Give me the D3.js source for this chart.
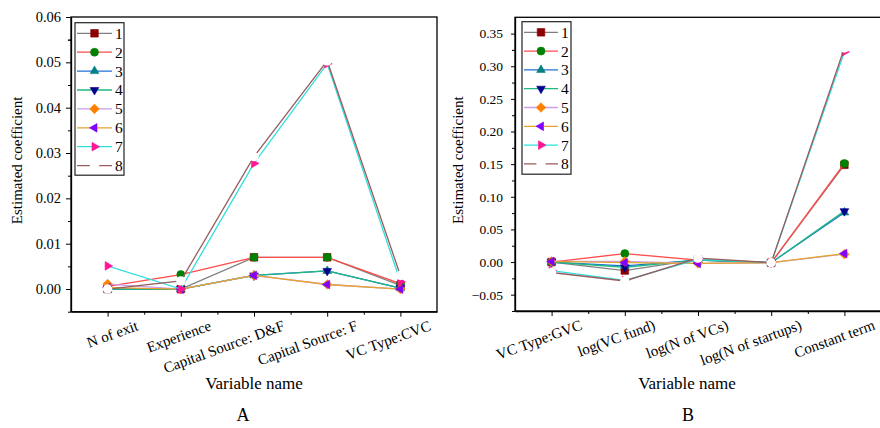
<!DOCTYPE html>
<html><head><meta charset="utf-8">
<script src="https://cdn.jsdelivr.net/npm/d3@7"></script>
<style>
body{margin:0;background:#fff}
svg{display:block}
text{font-family:"Liberation Serif","Times New Roman",serif;fill:#000}
</style>
</head><body>
<svg id="c" width="880" height="428"></svg>
<script>
// ---------- data ----------
const seriesNames = ["1","2","3","4","5","6","7","8"];
const catsA = ["N of exit","Experience","Capital Source: D&F","Capital Source: F","VC Type:CVC"];
const catsB = ["VC Type:GVC","log(VC fund)","log(N of VCs)","log(N of startups)","Constant term"];

const A1 = [0.0000, 0.0000, 0.0070, 0.0070, 0.0008];
const A2 = [0.0006, 0.0032, 0.0070, 0.0070, 0.0012];
const A3 = [0.0000, 0.0000, 0.0030, 0.0040, 0.0002];
const A4 = [0.0000, 0.0000, 0.0030, 0.0040, 0.0002];
const A5 = [0.0011, 0.0000, 0.0030, 0.0010, 0.0000];
const A6 = [0.0003, 0.0000, 0.0030, 0.0010, 0.0000];
const A7 = [0.0051, 0.0000, 0.0277, 0.0497, 0.0016];
const A8 = [0.0000, 0.0018, 0.0292, 0.0503, 0.0030];

const B1 = [0.000, -0.013, 0.004, -0.001, 0.149];
const B2 = [0.000, 0.013, 0.003, -0.001, 0.151];
const B3 = [0.000, -0.006, 0.003, -0.001, 0.076];
const B4 = [0.000, -0.008, 0.003, -0.001, 0.078];
const B5 = [0.001, 0.001, -0.002, -0.001, 0.012];
const B6 = [0.001, -0.001, -0.002, -0.001, 0.013];
const B7 = [-0.013, -0.028, 0.004, -0.001, 0.322];
const B8 = [-0.016, -0.029, 0.006, -0.001, 0.328];

const yTicksA = [0.00, 0.01, 0.02, 0.03, 0.04, 0.05, 0.06];
const yTicksB = [-0.05, 0.00, 0.05, 0.10, 0.15, 0.20, 0.25, 0.30, 0.35];

// ---------- styles ----------
const lineColors = ["#808080","#ff4a4a","#1f6fd6","#1fb883","#c9a0ea","#e5a22c","#2fe0e0","#9a5c5c"];
const markColors = ["#8b0000","#008000","#008080","#00008e","#ff8000","#8000ff","#ff1493","#ffffff"];
const markShapes = ["square","circle","up","down","diamond","left","right","white"];
const FONT = '"Liberation Serif","Times New Roman",serif';

const svg = d3.select("#c");

function markerPath(shape){
  const p = d3.path();
  if (shape==="square"){ const s=3.8; p.rect(-s,-s,2*s,2*s); }
  else if (shape==="circle"){ p.arc(0,0,4,0,2*Math.PI); }
  else if (shape==="white"){ p.arc(0,0,4.7,0,2*Math.PI); }
  else if (shape==="diamond"){ const s=4.8; p.moveTo(0,-s);p.lineTo(s,0);p.lineTo(0,s);p.lineTo(-s,0);p.closePath(); }
  else {
    const r=5; const pts=[[0,-r],[r*0.87,r*0.5],[-r*0.87,r*0.5]];
    const ang = {up:0, down:180, left:-90, right:90}[shape]*Math.PI/180;
    pts.forEach((q,i)=>{const x=q[0]*Math.cos(ang)-q[1]*Math.sin(ang), y=q[0]*Math.sin(ang)+q[1]*Math.cos(ang); if(i===0)p.moveTo(x,y); else p.lineTo(x,y);});
    p.closePath();
  }
  return p.toString();
}

function drawMarker(g, i, cx, cy){
  const white = markShapes[i]==="white";
  g.append("path").attr("d", markerPath(markShapes[i]))
    .attr("transform", `translate(${cx},${cy})`)
    .attr("fill", markColors[i])
    .attr("stroke", white ? "none" : markColors[i])
    .attr("stroke-width", 0.6);
}

function panel(cfg){
  const x = d3.scaleLinear().domain([0.5, 5.5]).range([cfg.left, cfg.right]);
  const y = d3.scaleLinear().domain(cfg.domain).range([cfg.bottom, cfg.top]);
  const g = svg.append("g");

  // frame
  g.append("rect").attr("x",cfg.left).attr("y",cfg.top)
    .attr("width",cfg.right-cfg.left).attr("height",cfg.bottom-cfg.top)
    .attr("fill","none").attr("stroke","#000").attr("stroke-width",1.3);

  // x axis
  const xa = g.append("g").attr("transform",`translate(0,${cfg.bottom})`)
    .call(d3.axisBottom(x).tickValues([1,2,3,4,5]).tickSize(5).tickSizeOuter(0)
      .tickFormat(i => cfg.cats[i-1]));
  xa.select(".domain").attr("stroke-width",1.3);
  xa.selectAll("text").attr("x",0).attr("y",0).attr("dy",0)
    .attr("text-anchor","end").style("font-size","15px").style("font-family",FONT)
    .attr("transform","translate(31,18) rotate(-20)");
  g.append("g").attr("transform",`translate(0,${cfg.bottom})`)
    .call(d3.axisBottom(x).tickValues([1.5,2.5,3.5,4.5]).tickSize(3).tickSizeOuter(0).tickFormat(""))
    .select(".domain").remove();

  // y axis
  const ya = g.append("g").attr("transform",`translate(${cfg.left},0)`)
    .call(d3.axisLeft(y).tickValues(cfg.yTicks).tickSize(cfg.tickLen).tickPadding(cfg.tickPad)
      .tickSizeOuter(0).tickFormat(d3.format(".2f")));
  ya.select(".domain").attr("stroke-width",1.3);
  ya.selectAll("text").style("font-size",cfg.yFont).style("font-family",FONT);
  g.append("g").attr("transform",`translate(${cfg.left},0)`)
    .call(d3.axisLeft(y).tickValues(cfg.yMinor).tickSize(3).tickSizeOuter(0).tickFormat(""))
    .select(".domain").remove();

  // series
  const line = d3.line().x((d,i)=>x(i+1)).y(d=>y(d));
  cfg.vals.forEach((vals,si)=>{
    const sg = g.append("g");
    sg.append("path").attr("d", line(vals)).attr("fill","none")
      .attr("stroke", lineColors[si]).attr("stroke-width",1.3);
    vals.forEach((v,i)=> drawMarker(sg, si, x(i+1), y(v)));
  });

  // legend
  const lg = g.append("g");
  lg.append("rect").attr("x",cfg.leg.x).attr("y",cfg.leg.y).attr("width",cfg.leg.w).attr("height",cfg.leg.h)
    .attr("fill","#fff").attr("stroke","#222").attr("stroke-width",1.2);
  seriesNames.forEach((n,i)=>{
    const yy = cfg.leg.row0 + i*cfg.leg.step;
    lg.append("line").attr("x1",cfg.leg.l1).attr("x2",cfg.leg.l2).attr("y1",yy).attr("y2",yy)
      .attr("stroke",lineColors[i]).attr("stroke-width",1.3);
    drawMarker(lg, i, (cfg.leg.l1+cfg.leg.l2)/2, yy);
    lg.append("text").attr("x",cfg.leg.tx).attr("y",yy).attr("dy","0.35em")
      .style("font-size","15.5px").style("font-family",FONT).text(n);
  });

  // titles
  g.append("text").attr("transform",`translate(${cfg.ytX},${(cfg.top+cfg.bottom)/2 - 4}) rotate(-90)`)
    .attr("text-anchor","middle").style("font-size","15px").style("font-family",FONT).text("Estimated coefficient");
  g.append("text").attr("x",cfg.xtX).attr("y",389).attr("text-anchor","middle")
    .style("font-size","17px").style("font-family",FONT).text("Variable name");
  g.append("text").attr("x",cfg.labX).attr("y",421).attr("text-anchor","middle")
    .style("font-size","18px").style("font-family",FONT).text(cfg.label);
}

panel({
  left:71, right:437, top:17, bottom:311.7, domain:[-0.005, 0.06],
  cats:catsA, vals:[A1,A2,A3,A4,A5,A6,A7,A8],
  yTicks:yTicksA, yMinor:d3.range(7).map(i=>i*0.01-0.005).concat([0.055]),
  tickLen:5, tickPad:5, yFont:"14.5px",
  leg:{x:75,y:22.7,w:49,h:152.5,row0:33.3,step:18.9,l1:77,l2:112,tx:115},
  ytX:22, xtX:254, labX:243, label:"A"
});
panel({
  left:515, right:881, top:17.3, bottom:311, domain:[-0.075, 0.375],
  cats:catsB, vals:[B1,B2,B3,B4,B5,B6,B7,B8],
  yTicks:yTicksB, yMinor:d3.range(9).map(i=>-0.075+i*0.05).concat([0.325]),
  tickLen:4, tickPad:8, yFont:"13.5px",
  leg:{x:522,y:21.7,w:49,h:152.5,row0:32.3,step:18.8,l1:524,l2:558,tx:561},
  ytX:463, xtX:687, labX:688, label:"B"
});
</script>
</body></html>
